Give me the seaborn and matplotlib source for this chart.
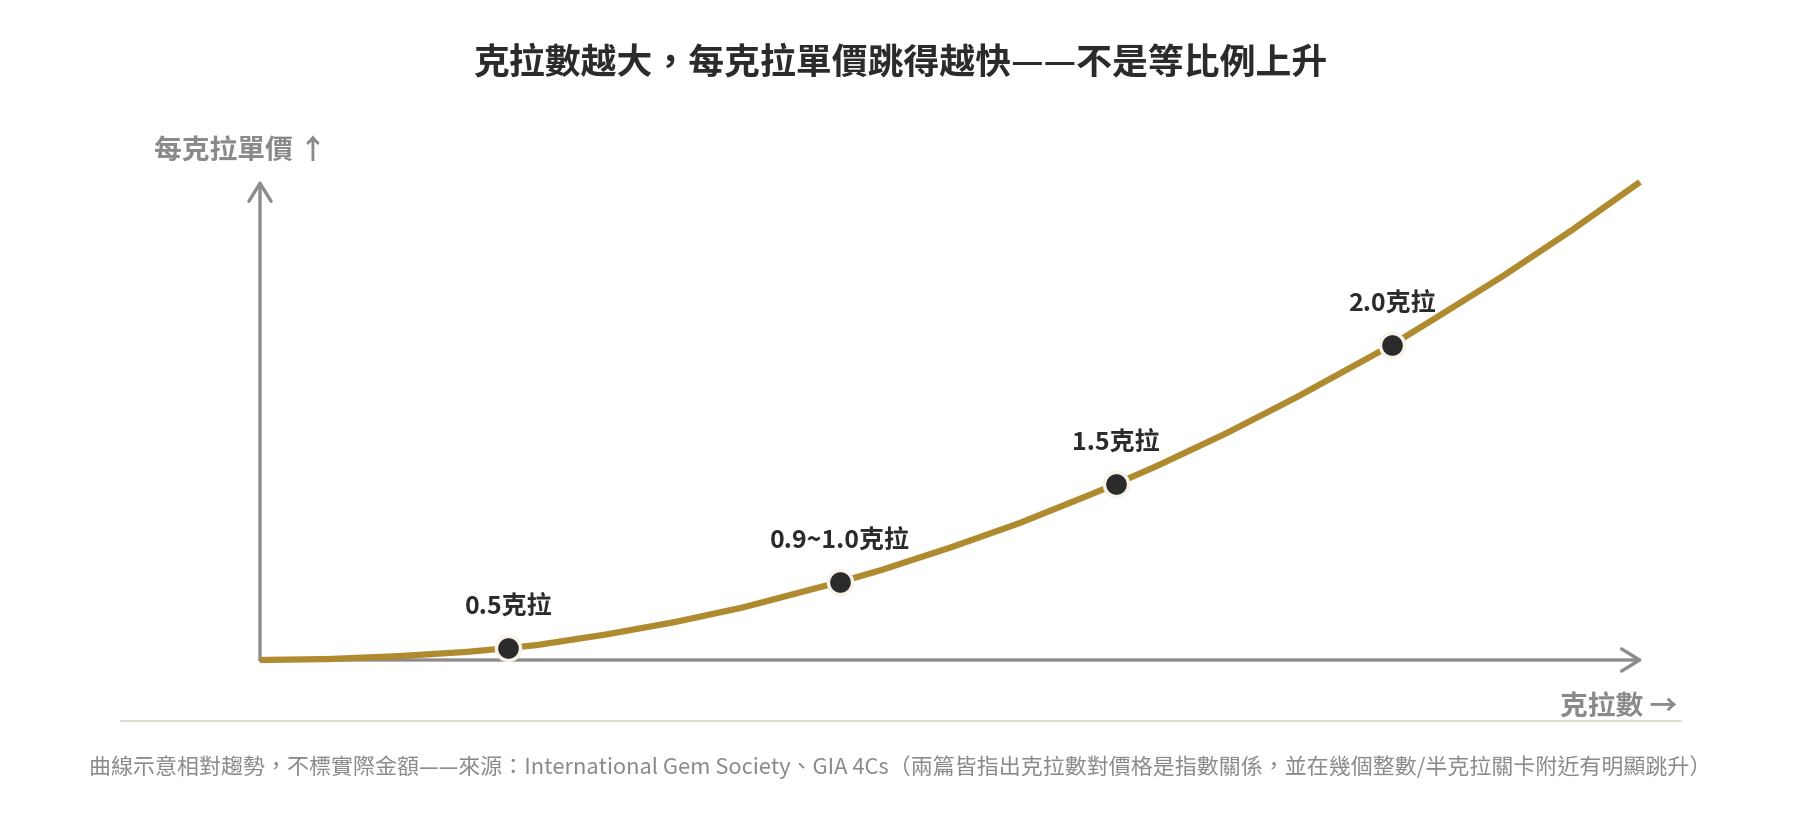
import matplotlib
matplotlib.use("Agg")
import matplotlib.pyplot as plt
import seaborn as sns
import pandas as pd

# relative carat position (0-100) vs relative price per carat (0-100)
curve_x = [0, 5, 10, 15, 18, 20, 25, 30, 35, 40, 42, 45, 50, 55, 60, 62,
           65, 70, 75, 80, 82, 85, 90, 95, 100]
curve_y = [0, 0.2, 0.8, 1.7, 2.5, 3.1, 5.3, 7.9, 11.0, 14.8, 16.3, 18.8, 23.5,
           28.6, 34.4, 36.8, 40.6, 47.4, 54.8, 62.7, 65.9, 71.2, 80.2, 89.8, 100]

point_x = [18, 42, 62, 82]
point_y = [2.5, 16.3, 36.8, 65.9]
point_labels = ["0.5克拉", "0.9~1.0克拉", "1.5克拉", "2.0克拉"]

title = "克拉數越大，每克拉單價跳得越快——不是等比例上升"
ylabel = "每克拉單價 ↑"
xlabel = "克拉數 →"
note = ("曲線示意相對趨勢，不標實際金額——來源：International Gem Society、GIA 4Cs"
        "（兩篇皆指出克拉數對價格是指數關係，並在幾個整數/半克拉關卡附近有明顯跳升）")

gold = "#b08a2e"
axis_gray = "#8c8c8c"
text_gray = "#8a8a8a"
dark = "#2b2b2b"

sns.set_theme(style="white")
plt.rcParams["font.family"] = ["Noto Sans CJK TC", "DejaVu Sans"]

df_curve = pd.DataFrame({"x": curve_x, "y": curve_y})
df_pts = pd.DataFrame({"x": point_x, "y": point_y, "label": point_labels})

fig = plt.figure(figsize=(18, 8.4), dpi=100)
fig.patch.set_facecolor("white")
ax = fig.add_axes([260 / 1800, 180 / 840, 1380 / 1800, 478 / 840])
ax.set_xlim(0, 100)
ax.set_ylim(0, 100)
ax.axis("off")

# axes drawn as arrows
arrow_kw = dict(arrowstyle="->,head_length=0.65,head_width=0.4", color=axis_gray,
                lw=2.4, mutation_scale=20, shrinkA=0, shrinkB=0)
ax.annotate("", xy=(100.2, 0), xytext=(0, 0), arrowprops=arrow_kw,
            annotation_clip=False, zorder=1)
ax.annotate("", xy=(0, 100.4), xytext=(0, 0), arrowprops=arrow_kw,
            annotation_clip=False, zorder=1)

sns.lineplot(data=df_curve, x="x", y="y", ax=ax, color=gold, lw=4.5,
             zorder=3, clip_on=False, solid_capstyle="butt")
sns.scatterplot(data=df_pts, x="x", y="y", ax=ax, color=dark, s=300,
                edgecolor="#f7f3e8", linewidth=2.5, zorder=4, clip_on=False)

for _, r in df_pts.iterrows():
    ax.annotate(r["label"], (r["x"], r["y"]), xytext=(0, 29),
                textcoords="offset points", ha="center", va="center",
                fontsize=18, fontweight="bold", color=dark)

fig.text(0.5, 1 - 63 / 840, title, ha="center", va="center",
         fontsize=25.8, fontweight="bold", color=dark)
fig.text(154 / 1800, 1 - 152 / 840, ylabel, ha="left", va="center",
         fontsize=20, fontweight="bold", color=text_gray)
fig.text(1677 / 1800, 1 - 708 / 840, xlabel, ha="right", va="center",
         fontsize=20, fontweight="bold", color=text_gray)
fig.add_artist(plt.Line2D([121 / 1800, 1681 / 1800], [1 - 721 / 840, 1 - 721 / 840],
                          transform=fig.transFigure, color="#dedbd0", lw=1.5))
fig.text(0.5, 1 - 767 / 840, note, ha="center", va="center",
         fontsize=15.8, color=text_gray)

fig.savefig("out.png", dpi=100, facecolor="white")
